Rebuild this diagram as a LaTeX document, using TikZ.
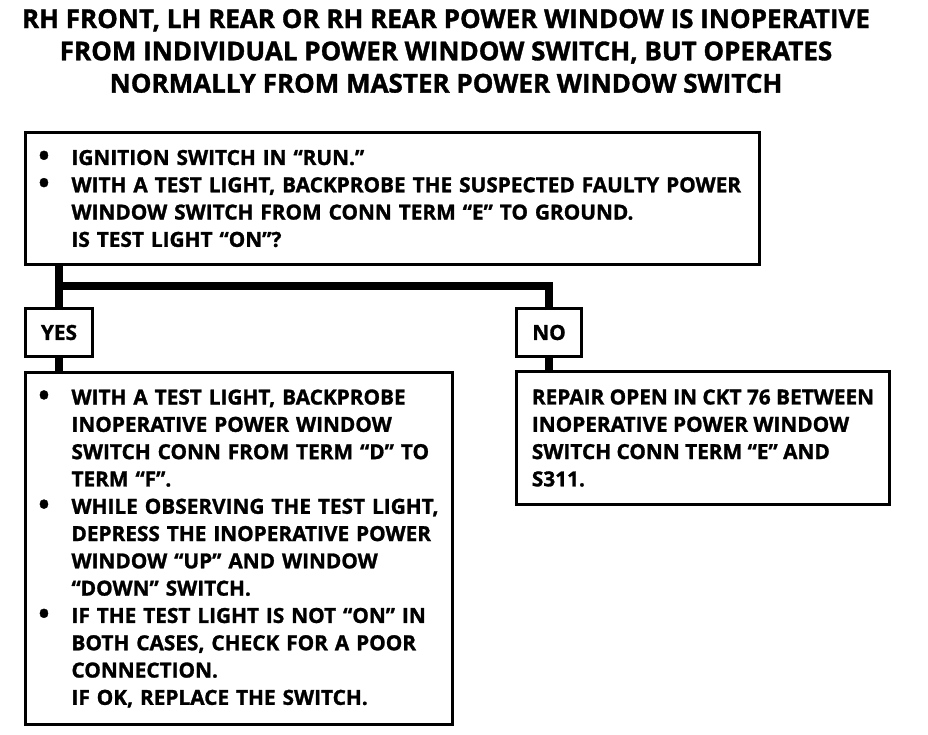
\documentclass[tikz,border=0pt]{standalone}
\usepackage{fontspec}
\setmainfont{Open Sans}[BoldFeatures={FakeBold=1.3}]
\usetikzlibrary{positioning}
\newcommand{\bul}{\makebox[33pt][l]{\raisebox{-1pt}{\scalebox{1.4}{\textbullet}}}}
\newcommand{\ind}{\hspace*{33pt}}

\begin{document}
\begin{tikzpicture}[x=1pt,y=-1pt,
  box/.style={draw,line width=3pt,anchor=north west,inner xsep=13pt,inner ysep=0pt,align=left,font=\bfseries\fontsize{20.8}{27.3}\selectfont},
  tag/.style={draw,line width=3pt,anchor=north west,inner sep=0pt,font=\bfseries\fontsize{20.8}{27.3}\selectfont},
  conn/.style={line width=8pt,line join=miter}]
\useasboundingbox (0,0) rectangle (928,734);
\node[align=center,font=\bfseries\fontsize{26}{32.3}\selectfont] (head) at (446,51) {RH FRONT, LH REAR OR RH REAR POWER WINDOW IS INOPERATIVE\\FROM INDIVIDUAL POWER WINDOW SWITCH, BUT OPERATES\\NORMALLY FROM MASTER POWER WINDOW SWITCH};
\node[box,text width=708pt,minimum height=132pt] (check) at (24,131) {\bul IGNITION SWITCH IN “RUN.”\\\bul WITH A TEST LIGHT, BACKPROBE THE SUSPECTED FAULTY POWER\\\ind WINDOW SWITCH FROM CONN TERM “E” TO GROUND.\\\ind IS TEST LIGHT “ON”?};
\node[tag,minimum width=67pt,minimum height=48pt] (yes) at (24,307) {YES};
\node[tag,minimum width=65pt,minimum height=48pt] (no) at (515,307) {NO};
\node[box,text width=401pt,minimum height=352pt] (probe) at (24,371) {\bul WITH A TEST LIGHT, BACKPROBE\\\ind INOPERATIVE POWER WINDOW\\\ind SWITCH CONN FROM TERM “D” TO\\\ind TERM “F”.\\\bul WHILE OBSERVING THE TEST LIGHT,\\\ind DEPRESS THE INOPERATIVE POWER\\\ind WINDOW “UP” AND WINDOW\\\ind “DOWN” SWITCH.\\\bul IF THE TEST LIGHT IS NOT “ON” IN\\\ind BOTH CASES, CHECK FOR A POOR\\\ind CONNECTION.\\\ind IF OK, REPLACE THE SWITCH.};
\node[box,inner xsep=0pt,minimum width=373pt,minimum height=133pt] (repair) at (515,370) {REPAIR OPEN IN CKT 76 BETWEEN\\INOPERATIVE POWER WINDOW\\SWITCH CONN TERM “E” AND\\S311.};
\coordinate (split) at (59,286);
\draw[conn] (check.south -| yes.north) -- (yes.north) (yes.south) -- (probe.north -| yes.south);
\draw[conn] (split) -| (no.north) (no.south) -- (repair.north -| no.south);
\end{tikzpicture}
\end{document}
